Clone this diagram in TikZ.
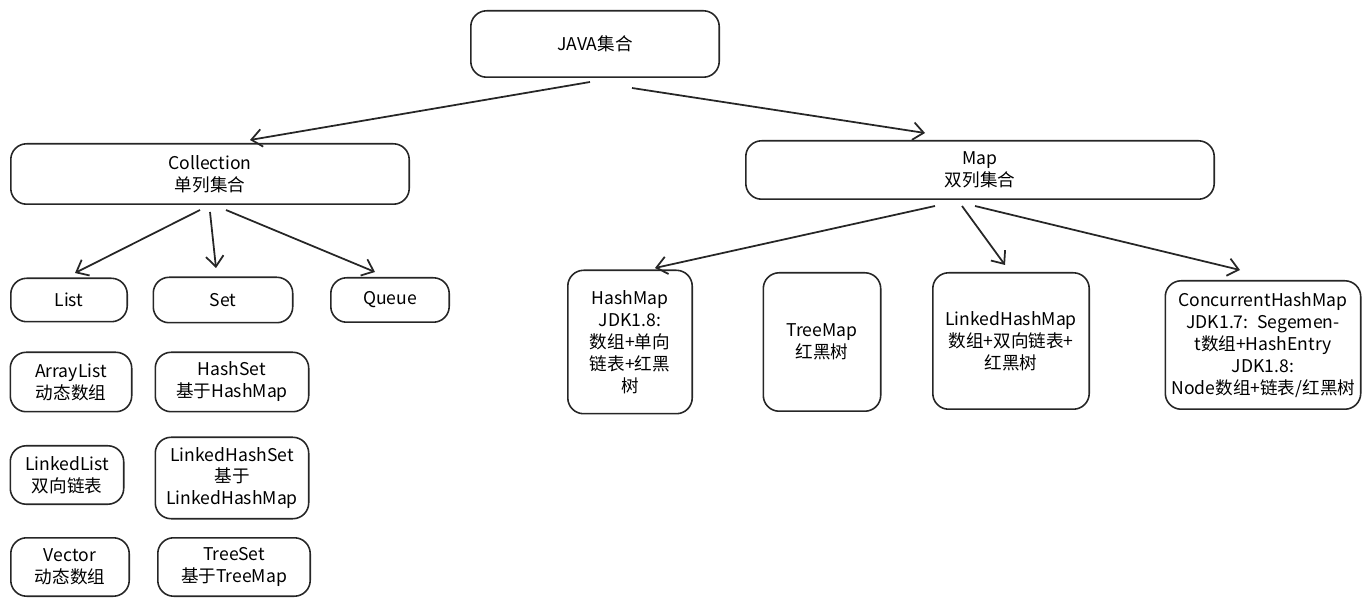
\documentclass[tikz,border=0pt]{standalone}
\usepackage{fontspec}
\setmainfont{Noto Sans CJK SC}
\usetikzlibrary{arrows.meta}
\begin{document}
\begin{tikzpicture}[x=0.02cm,y=-0.02cm,
  bx/.style={draw=black!85,line width=0.9pt,rounded corners=9pt,align=center,font=\fontsize{10}{12.5}\selectfont,inner sep=2pt},
  ar/.style={draw=black!85,line width=1pt,-{Straight Barb[length=6pt,width=10pt]}}]
\useasboundingbox (0,0) rectangle (1372,607);
\newcommand{\bx}[6]{\node[bx,minimum width=#4*0.02cm-0.9pt,minimum height=#5*0.02cm-0.9pt,text width=#4*0.02cm-8pt] (#1) at (#2,#3) {#6};}
\bx{java}{595}{44}{250}{68}{JAVA集合}
\bx{coll}{210}{174}{400}{62}{Collection\\单列集合}
\bx{map}{980}{170}{470}{60}{Map\\双列集合}
\bx{list}{69}{300}{118}{45}{List}
\bx{set}{223}{300}{141}{47}{Set}
\bx{queue}{390}{300}{120}{46}{Queue}
\bx{arr}{71}{382}{123}{61}{ArrayList\\动态数组}
\bx{hs}{232}{382}{155}{61}{HashSet\\基于HashMap}
\bx{ll}{67}{475}{115}{60}{LinkedList\\双向链表}
\bx{lhs}{232}{478}{155}{83}{LinkedHashSet\\基于\\LinkedHashMap}
\bx{vec}{70}{567}{120}{60}{Vector\\动态数组}
\bx{ts}{234}{567}{154}{60}{TreeSet\\基于TreeMap}
\bx{hm}{630}{342}{126}{145}{HashMap\\JDK1.8:\\数组+单向\\链表+红黑\\树}
\bx{tm}{822}{342}{119}{140}{TreeMap\\红黑树}
\bx{lhm}{1011}{341}{158}{138}{LinkedHashMap\\数组+双向链表+\\红黑树}
\bx{chm}{1263}{345}{197}{130}{ConcurrentHashMap\\JDK1.7: Segement数组+HashEntry\\JDK1.8: Node数组+链表/红黑树}
\coordinate (j1) at (590,82); \coordinate (j2) at (632,88);
\coordinate (c1) at (200,210); \coordinate (c2) at (210,212); \coordinate (c3) at (226,210);
\coordinate (m1) at (935,206); \coordinate (m2) at (962,206); \coordinate (m3) at (975,206);
\draw[ar] (j1) -- (250,140);
\draw[ar] (j2) -- (925,133);
\draw[ar] (c1) -- (75,273);
\draw[ar] (c2) -- (216,268);
\draw[ar] (c3) -- (375,272);
\draw[ar] (m1) -- (655,268);
\draw[ar] (m2) -- (1005,265);
\draw[ar] (m3) -- (1240,270);
\end{tikzpicture}
\end{document}
